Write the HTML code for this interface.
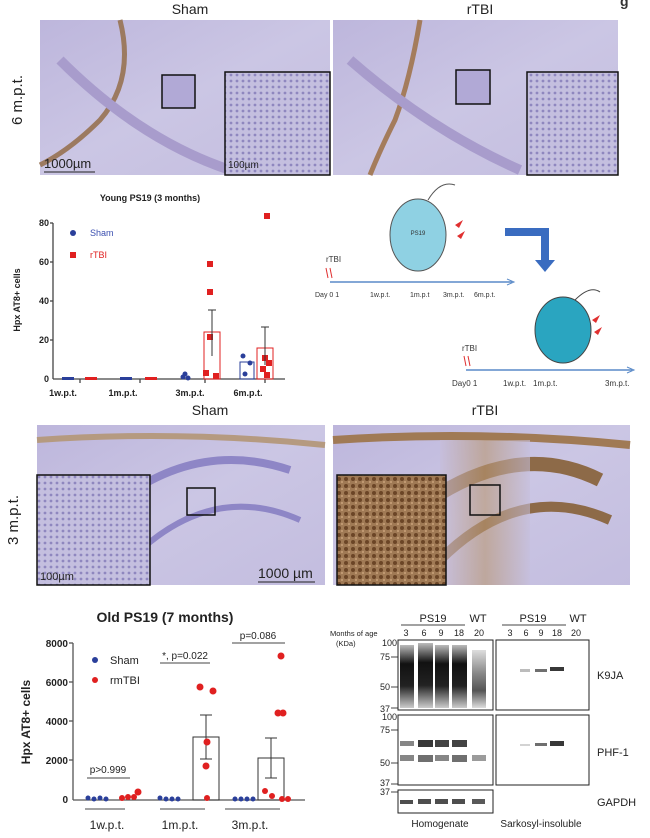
<!DOCTYPE html>
<html><head><meta charset="utf-8"><style>
body{margin:0;background:#fff}
svg{display:block;font-family:"Liberation Sans",Arial,sans-serif}
</style></head><body>
<svg width="650" height="838" viewBox="0 0 650 838" xmlns="http://www.w3.org/2000/svg">
<defs>
<linearGradient id="lav" x1="0" y1="0" x2="1" y2="1">
<stop offset="0" stop-color="#bdb6dc"/><stop offset="0.5" stop-color="#cbc6e4"/><stop offset="1" stop-color="#c3bddf"/></linearGradient>
<pattern id="cells" width="6" height="6" patternUnits="userSpaceOnUse">
<rect width="6" height="6" fill="#c4bfdf"/><circle cx="3" cy="3" r="1.4" fill="#8f87bf"/></pattern>
<pattern id="brown" width="7" height="7" patternUnits="userSpaceOnUse">
<rect width="7" height="7" fill="#a07a55"/><circle cx="3" cy="3" r="2" fill="#6b4526"/><circle cx="6" cy="6" r="1" fill="#c9a27a"/></pattern>
<linearGradient id="brg" x1="0" y1="0" x2="1" y2="0">
<stop offset="0" stop-color="#c7bedb"/><stop offset="0.5" stop-color="#b8956f"/><stop offset="1" stop-color="#c6bfdc"/></linearGradient>
<linearGradient id="smear" x1="0" y1="0" x2="0" y2="1">
<stop offset="0" stop-color="#bbb"/><stop offset="0.3" stop-color="#111"/><stop offset="0.65" stop-color="#222"/><stop offset="1" stop-color="#ccc"/></linearGradient>
<linearGradient id="smearwt" x1="0" y1="0" x2="0" y2="1">
<stop offset="0" stop-color="#ddd"/><stop offset="0.4" stop-color="#888"/><stop offset="0.7" stop-color="#555"/><stop offset="1" stop-color="#ddd"/></linearGradient>
</defs>

<!-- Row 1 -->
<text x="620" y="6" font-size="14" font-weight="bold" fill="#333">g</text>
<text x="190" y="14" font-size="14" text-anchor="middle" fill="#222">Sham</text>
<text x="480" y="14" font-size="14" text-anchor="middle" fill="#222">rTBI</text>
<text transform="translate(22,100) rotate(-90)" font-size="15" text-anchor="middle" fill="#222">6 m.p.t.</text>
<rect x="40" y="20" width="290" height="155" fill="url(#lav)"/>
<path d="M120 20 Q135 80 100 120 Q70 150 40 165" stroke="#9c7a60" stroke-width="5" fill="none"/>
<path d="M60 60 Q140 140 230 170" stroke="#a89ccc" stroke-width="10" fill="none"/>
<rect x="162" y="75" width="33" height="33" fill="#b1a9d6" stroke="#111" stroke-width="1.5"/>
<rect x="225" y="72" width="105" height="103" fill="url(#cells)" stroke="#111" stroke-width="1.5"/>
<text x="44" y="168" font-size="13" fill="#222">1000µm</text>
<line x1="44" y1="172" x2="95" y2="172" stroke="#222"/>
<text x="228" y="168" font-size="10" fill="#222">100µm</text>
<rect x="333" y="20" width="285" height="155" fill="url(#lav)"/>
<path d="M420 20 Q410 80 395 120 Q380 150 370 175" stroke="#a47c5c" stroke-width="5" fill="none"/>
<path d="M350 60 Q430 130 520 170" stroke="#a89ccc" stroke-width="10" fill="none"/>
<rect x="456" y="70" width="34" height="34" fill="#b1a9d6" stroke="#111" stroke-width="1.5"/>
<rect x="527" y="72" width="91" height="103" fill="url(#cells)" stroke="#111" stroke-width="1.5"/>

<!-- Chart 1 -->
<text x="150" y="201" font-size="9" font-weight="bold" text-anchor="middle" fill="#222">Young PS19 (3 months)</text>
<text transform="translate(20,300) rotate(-90)" font-size="9" font-weight="bold" text-anchor="middle" fill="#222">Hpx AT8+ cells</text>
<g font-size="9" font-weight="bold" fill="#222" text-anchor="end">
<text x="49" y="226">80</text><text x="49" y="265">60</text><text x="49" y="304">40</text><text x="49" y="343">20</text><text x="49" y="382">0</text></g>
<g stroke="#444" stroke-width="1.3">
<line x1="53" y1="223" x2="53" y2="379"/><line x1="53" y1="379" x2="285" y2="379"/>
<line x1="50" y1="223" x2="53" y2="223"/><line x1="50" y1="262" x2="53" y2="262"/><line x1="50" y1="301" x2="53" y2="301"/><line x1="50" y1="340" x2="53" y2="340"/>
<line x1="80" y1="379" x2="80" y2="383"/><line x1="140" y1="379" x2="140" y2="383"/><line x1="205" y1="379" x2="205" y2="383"/><line x1="265" y1="379" x2="265" y2="383"/></g>
<g font-size="9" font-weight="bold" fill="#222" text-anchor="middle">
<text x="63" y="396">1w.p.t.</text><text x="123" y="396">1m.p.t.</text><text x="190" y="396">3m.p.t.</text><text x="248" y="396">6m.p.t.</text></g>
<circle cx="73" cy="233" r="3" fill="#2a3f9a"/><text x="90" y="236" font-size="9" fill="#3b4fb0">Sham</text>
<rect x="70" y="252" width="6" height="6" fill="#e02020"/><text x="90" y="258" font-size="9" fill="#e02020">rTBI</text>
<g fill="#2a3f9a"><rect x="62" y="377" width="12" height="3"/><rect x="120" y="377" width="12" height="3"/>
<circle cx="185" cy="374" r="2.5"/><circle cx="188" cy="378" r="2.5"/><circle cx="183" cy="377" r="2.5"/>
<circle cx="243" cy="356" r="2.5"/><circle cx="250" cy="363" r="2.5"/><circle cx="245" cy="374" r="2.5"/></g>
<g fill="#e02020"><rect x="85" y="377" width="12" height="3"/><rect x="145" y="377" width="12" height="3"/>
<rect x="207" y="261" width="6" height="6"/><rect x="207" y="289" width="6" height="6"/><rect x="207" y="334" width="6" height="6"/><rect x="203" y="370" width="6" height="6"/><rect x="213" y="373" width="6" height="6"/>
<rect x="264" y="213" width="6" height="6"/><rect x="262" y="355" width="6" height="6"/><rect x="266" y="360" width="6" height="6"/><rect x="260" y="366" width="6" height="6"/><rect x="264" y="372" width="6" height="6"/></g>
<rect x="204" y="332" width="16" height="47" fill="none" stroke="#e02020"/>
<rect x="257" y="348" width="16" height="31" fill="none" stroke="#e02020"/>
<rect x="240" y="362" width="14" height="17" fill="none" stroke="#2a3f9a"/>
<g stroke="#333"><line x1="212" y1="310" x2="212" y2="356"/><line x1="208" y1="310" x2="216" y2="310"/>
<line x1="265" y1="327" x2="265" y2="365"/><line x1="261" y1="327" x2="269" y2="327"/></g>

<!-- Timelines -->
<g fill="#8fd1e3" stroke="#555" stroke-width="1"><ellipse cx="418" cy="235" rx="28" ry="36"/></g>
<path d="M428 200 Q440 180 455 185" stroke="#555" fill="none"/>
<text x="418" y="235" font-size="6" text-anchor="middle" fill="#333">PS19</text>
<path d="M455 225 l8 -5 l-4 8 z M457 236 l8 -5 l-4 8 z" fill="#e03030"/>
<path d="M505 232 H545 V262" stroke="#3a6cc0" stroke-width="8" fill="none"/>
<path d="M535 260 L555 260 L545 272 Z" fill="#3a6cc0"/>
<text x="326" y="262" font-size="8" fill="#333">rTBI</text>
<path d="M326 268 l2 10 M330 268 l2 10" stroke="#e03030"/>
<line x1="330" y1="282" x2="512" y2="282" stroke="#5a8ac8" stroke-width="1.5"/>
<path d="M507 279 L514 282 L507 285" stroke="#5a8ac8" fill="none"/>
<g font-size="7" fill="#333"><text x="315" y="297">Day 0 1</text><text x="370" y="297">1w.p.t.</text><text x="410" y="297">1m.p.t</text><text x="443" y="297">3m.p.t.</text><text x="474" y="297">6m.p.t.</text></g>
<ellipse cx="563" cy="330" rx="28" ry="33" fill="#2aa5c0" stroke="#444"/>
<path d="M575 300 Q590 285 600 292" stroke="#444" fill="none"/>
<path d="M592 320 l8 -5 l-4 8 z M594 332 l8 -5 l-4 8 z" fill="#e03030"/>
<text x="462" y="351" font-size="8" fill="#333">rTBI</text>
<path d="M464 356 l2 10 M468 356 l2 10" stroke="#e03030"/>
<line x1="466" y1="370" x2="632" y2="370" stroke="#5a8ac8" stroke-width="1.5"/>
<path d="M627 367 L634 370 L627 373" stroke="#5a8ac8" fill="none"/>
<g font-size="8" fill="#333"><text x="452" y="386">Day0 1</text><text x="503" y="386">1w.p.t.</text><text x="533" y="386">1m.p.t.</text><text x="605" y="386">3m.p.t.</text></g>

<!-- Row 3 -->
<text x="210" y="415" font-size="14" text-anchor="middle" fill="#222">Sham</text>
<text x="485" y="415" font-size="14" text-anchor="middle" fill="#222">rTBI</text>
<text transform="translate(18,520) rotate(-90)" font-size="15" text-anchor="middle" fill="#222">3 m.p.t.</text>
<rect x="37" y="425" width="288" height="160" fill="url(#lav)"/>
<path d="M37 440 Q180 430 325 445" stroke="#b59a80" stroke-width="6" fill="none"/>
<path d="M120 500 Q200 440 290 470" stroke="#8e86c6" stroke-width="8" fill="none"/>
<path d="M130 560 Q210 480 300 520" stroke="#8e86c6" stroke-width="6" fill="none"/>
<rect x="187" y="488" width="28" height="27" fill="none" stroke="#111" stroke-width="1.5"/>
<rect x="37" y="475" width="113" height="110" fill="url(#cells)" stroke="#111" stroke-width="1.5"/>
<text x="40" y="580" font-size="11" fill="#222">100µm</text>
<text x="258" y="578" font-size="14" fill="#222">1000 µm</text>
<line x1="258" y1="582" x2="315" y2="582" stroke="#222"/>
<rect x="333" y="425" width="297" height="160" fill="url(#lav)"/>
<path d="M333 440 Q480 430 630 445" stroke="#a07a55" stroke-width="8" fill="none"/>
<path d="M430 500 Q520 440 600 480" stroke="#8d6a48" stroke-width="14" fill="none"/>
<path d="M440 560 Q520 480 610 520" stroke="#8d6a48" stroke-width="10" fill="none"/>
<rect x="440" y="440" width="90" height="145" fill="url(#brg)" opacity="0.6"/>
<rect x="470" y="485" width="30" height="30" fill="none" stroke="#111" stroke-width="1.5"/>
<rect x="337" y="475" width="109" height="110" fill="url(#brown)" stroke="#111" stroke-width="1.5"/>

<!-- Chart 2 -->
<text x="165" y="622" font-size="14" font-weight="bold" text-anchor="middle" fill="#222">Old PS19 (7 months)</text>
<text transform="translate(30,722) rotate(-90)" font-size="12" font-weight="bold" text-anchor="middle" fill="#222">Hpx AT8+ cells</text>
<g font-size="10" font-weight="bold" fill="#222" text-anchor="end">
<text x="68" y="647">8000</text><text x="68" y="686">6000</text><text x="68" y="725">4000</text><text x="68" y="764">2000</text><text x="68" y="803">0</text></g>
<g stroke="#555" stroke-width="1.3">
<line x1="73" y1="643" x2="73" y2="800"/><line x1="73" y1="800" x2="305" y2="800"/>
<line x1="69" y1="643" x2="73" y2="643"/><line x1="69" y1="682" x2="73" y2="682"/><line x1="69" y1="721" x2="73" y2="721"/><line x1="69" y1="760" x2="73" y2="760"/></g>
<g stroke="#444"><line x1="85" y1="809" x2="125" y2="809"/><line x1="160" y1="809" x2="205" y2="809"/><line x1="225" y1="809" x2="280" y2="809"/>
<line x1="87" y1="778" x2="130" y2="778"/><line x1="160" y1="663" x2="210" y2="663"/><line x1="232" y1="643" x2="285" y2="643"/></g>
<g font-size="12" fill="#222" text-anchor="middle"><text x="107" y="829">1w.p.t.</text><text x="180" y="829">1m.p.t.</text><text x="250" y="829">3m.p.t.</text></g>
<g font-size="10" fill="#222" text-anchor="middle"><text x="108" y="773">p&gt;0.999</text><text x="185" y="659">*, p=0.022</text><text x="258" y="639">p=0.086</text></g>
<circle cx="95" cy="660" r="3" fill="#2a3f9a"/><text x="110" y="664" font-size="11" fill="#222">Sham</text>
<circle cx="95" cy="680" r="3" fill="#e02020"/><text x="110" y="684" font-size="11" fill="#222">rmTBI</text>
<rect x="193" y="737" width="26" height="63" fill="none" stroke="#333"/>
<rect x="258" y="758" width="26" height="42" fill="none" stroke="#333"/>
<g stroke="#333"><line x1="206" y1="715" x2="206" y2="759"/><line x1="200" y1="715" x2="212" y2="715"/><line x1="200" y1="759" x2="212" y2="759"/>
<line x1="271" y1="738" x2="271" y2="778"/><line x1="265" y1="738" x2="277" y2="738"/><line x1="265" y1="778" x2="277" y2="778"/></g>
<g fill="#2a3f9a"><circle cx="88" cy="798" r="2.5"/><circle cx="94" cy="799" r="2.5"/><circle cx="100" cy="798" r="2.5"/><circle cx="106" cy="799" r="2.5"/>
<circle cx="160" cy="798" r="2.5"/><circle cx="166" cy="799" r="2.5"/><circle cx="172" cy="799" r="2.5"/><circle cx="178" cy="799" r="2.5"/>
<circle cx="235" cy="799" r="2.5"/><circle cx="241" cy="799" r="2.5"/><circle cx="247" cy="799" r="2.5"/><circle cx="253" cy="799" r="2.5"/></g>
<g fill="#e02020"><circle cx="122" cy="798" r="3"/><circle cx="128" cy="797" r="3"/><circle cx="134" cy="797" r="3"/><circle cx="138" cy="792" r="3.5"/>
<circle cx="200" cy="687" r="3.5"/><circle cx="213" cy="691" r="3.5"/><circle cx="207" cy="742" r="3.5"/><circle cx="206" cy="766" r="3.5"/><circle cx="207" cy="798" r="3"/>
<circle cx="281" cy="656" r="3.5"/><circle cx="278" cy="713" r="3.5"/><circle cx="283" cy="713" r="3.5"/><circle cx="265" cy="791" r="3"/><circle cx="272" cy="796" r="3"/><circle cx="282" cy="799" r="3"/><circle cx="288" cy="799" r="3"/></g>

<!-- Western blot -->
<g font-size="11" fill="#222" text-anchor="middle"><text x="433" y="622">PS19</text><text x="478" y="622">WT</text><text x="533" y="622">PS19</text><text x="578" y="622">WT</text></g>
<line x1="401" y1="625" x2="465" y2="625" stroke="#444"/><line x1="502" y1="625" x2="566" y2="625" stroke="#444"/>
<g font-size="7.5" fill="#222"><text x="330" y="636">Months of age</text><text x="336" y="646">(KDa)</text></g>
<g font-size="9" fill="#222" text-anchor="middle"><text x="406" y="636">3</text><text x="424" y="636">6</text><text x="441" y="636">9</text><text x="459" y="636">18</text><text x="479" y="636">20</text>
<text x="510" y="636">3</text><text x="526" y="636">6</text><text x="541" y="636">9</text><text x="557" y="636">18</text><text x="576" y="636">20</text></g>
<g font-size="9" fill="#222" text-anchor="end"><text x="397" y="646">100</text><text x="390" y="660">75</text><text x="390" y="690">50</text><text x="390" y="712">37</text>
<text x="397" y="720">100</text><text x="390" y="733">75</text><text x="390" y="766">50</text><text x="390" y="786">37</text><text x="390" y="795">37</text></g>
<g stroke="#444"><line x1="391" y1="657" x2="398" y2="657"/><line x1="391" y1="687" x2="398" y2="687"/><line x1="391" y1="708" x2="398" y2="708"/><line x1="391" y1="730" x2="398" y2="730"/><line x1="391" y1="763" x2="398" y2="763"/><line x1="391" y1="784" x2="398" y2="784"/><line x1="391" y1="792" x2="398" y2="792"/></g>
<rect x="398" y="640" width="95" height="70" fill="#fff" stroke="#222"/>
<rect x="496" y="640" width="93" height="70" fill="#fff" stroke="#222"/>
<rect x="398" y="715" width="95" height="70" fill="#fff" stroke="#222"/>
<rect x="496" y="715" width="93" height="70" fill="#fff" stroke="#222"/>
<rect x="398" y="790" width="95" height="23" fill="#fff" stroke="#222"/>
<g>
<rect x="400" y="645" width="14" height="63" fill="url(#smear)"/><rect x="418" y="643" width="15" height="65" fill="url(#smear)"/><rect x="435" y="645" width="14" height="63" fill="url(#smear)"/><rect x="452" y="645" width="15" height="63" fill="url(#smear)"/><rect x="472" y="650" width="14" height="58" fill="url(#smearwt)"/>
</g>
<g fill="#222">
<rect x="400" y="741" width="14" height="5" opacity="0.55"/><rect x="418" y="740" width="15" height="7" opacity="0.9"/><rect x="435" y="740" width="14" height="7" opacity="0.85"/><rect x="452" y="740" width="15" height="7" opacity="0.85"/>
<rect x="400" y="755" width="14" height="6" opacity="0.55"/><rect x="418" y="755" width="15" height="7" opacity="0.65"/><rect x="435" y="755" width="14" height="6" opacity="0.55"/><rect x="452" y="755" width="15" height="7" opacity="0.65"/><rect x="472" y="755" width="14" height="6" opacity="0.45"/>
<rect x="400" y="800" width="13" height="4" opacity="0.8"/><rect x="418" y="799" width="13" height="5" opacity="0.8"/><rect x="435" y="799" width="13" height="5" opacity="0.8"/><rect x="452" y="799" width="13" height="5" opacity="0.8"/><rect x="472" y="799" width="13" height="5" opacity="0.75"/>
<rect x="520" y="669" width="10" height="3" opacity="0.3"/><rect x="535" y="669" width="12" height="3" opacity="0.65"/><rect x="550" y="667" width="14" height="4" opacity="0.9"/>
<rect x="520" y="744" width="10" height="2" opacity="0.2"/><rect x="535" y="743" width="12" height="3" opacity="0.65"/><rect x="550" y="741" width="14" height="5" opacity="0.9"/></g>
<g font-size="11" fill="#222"><text x="597" y="679">K9JA</text><text x="597" y="756">PHF-1</text><text x="597" y="806">GAPDH</text></g>
<g font-size="10" fill="#222" text-anchor="middle"><text x="440" y="827">Homogenate</text><text x="541" y="827">Sarkosyl-insoluble</text></g>
</svg>
</body></html>
